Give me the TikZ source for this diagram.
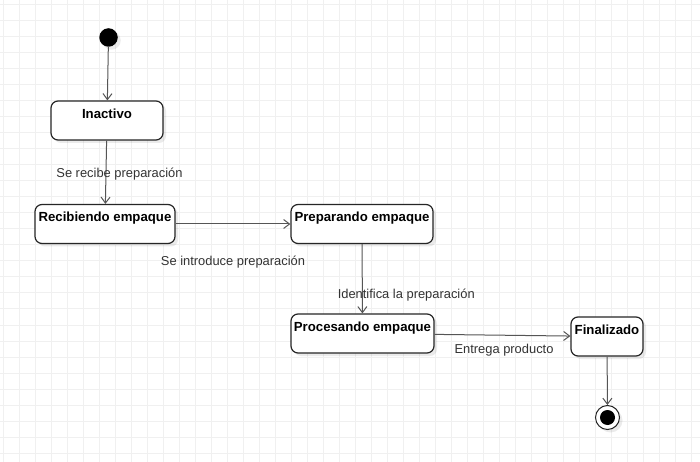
\documentclass[tikz,border=0pt]{standalone}
\usepackage{fontspec}
\setmainfont{Liberation Sans}
\usepackage{tikz}
\usetikzlibrary{positioning, arrows.meta, shadows}

\definecolor{gridgray}{HTML}{F0F0F0}
\definecolor{linegray}{HTML}{555555}
\definecolor{lblgray}{HTML}{333333}

\begin{document}
\begin{tikzpicture}[
    x=1bp, y=-1bp,
    gridline/.style={draw=gridgray, line width=1bp},
    shade3/.style={drop shadow={shadow xshift=3bp, shadow yshift=-3bp, fill=black, opacity=0.08}},
    state/.style={rectangle, rounded corners=7bp, draw=black!85, line width=1.2bp, fill=white,
                  inner sep=0pt, text height=17.5bp, text depth=21.5bp,
                  font=\fontsize{13.2bp}{15bp}\selectfont\bfseries, shade3},
    initstate/.style={circle, fill=black, inner sep=0pt, minimum size=18.5bp, shade3},
    finalstate/.style={circle, draw=black!85, line width=1bp, fill=white, inner sep=0pt,
                       minimum size=24bp, shade3,
                       path picture={\fill[black] (path picture bounding box.center) circle (7.5bp);}},
    trans/.style={-{Straight Barb[length=6bp, width=9bp]}, draw=linegray, line width=1bp},
    lbl/.style={font=\fontsize{12.9bp}{15bp}\selectfont, text=lblgray, inner sep=0pt}
]

    % Background and grid
    \useasboundingbox (0,0) rectangle (700,462);
    \fill[white] (0,0) rectangle (700,462);
    \foreach \i in {0,...,43}
        \draw[gridline] ({3.5+16*\i},0) -- ({3.5+16*\i},462);
    \foreach \j in {0,...,28}
        \draw[gridline] (0,{5+16*\j}) -- (700,{5+16*\j});

    % Initial state
    \node[initstate] (init) at (108.5, 37.5) {};

    % States
    \node[state, minimum width=112bp] (inactivo) at (107, 120.5) {Inactivo};
    \node[state, minimum width=140bp] (recibiendo) at (105, 224) {Recibiendo empaque};
    \node[state, minimum width=142bp] (preparando) at (362, 224) {Preparando empaque};
    \node[state, minimum width=143bp] (procesando) at (362.5, 333.5) {Procesando empaque};
    \node[state, minimum width=72bp] (finalizado) at (607, 336.5) {Finalizado};

    % Final state
    \node[finalstate] (fin) at (607.5, 417.5) {};

    % Transitions
    \draw[trans] (init) -- (inactivo);
    \draw[trans] (inactivo) -- (recibiendo)
        node[lbl, midway, xshift=13.5bp, yshift=-2bp] {Se recibe preparación};
    \draw[trans] (recibiendo) -- (preparando)
        node[lbl, midway, yshift=-38bp] {Se introduce preparación};
    \draw[trans] (preparando) -- (procesando)
        node[lbl, midway, xshift=44bp, yshift=-16bp] {Identifica la preparación};
    \draw[trans] (procesando) -- (finalizado)
        node[lbl, midway, xshift=1.5bp, yshift=-14.5bp] {Entrega producto};
    \draw[trans] (finalizado) -- (fin);

\end{tikzpicture}
\end{document}
